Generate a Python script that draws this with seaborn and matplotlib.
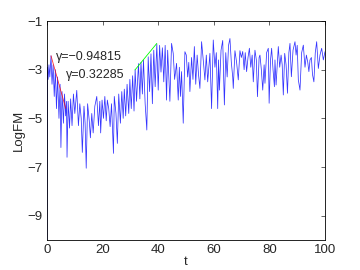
import numpy as np
import pandas as pd
import matplotlib
matplotlib.use("Agg")
import matplotlib.pyplot as plt
import seaborn as sns

# LogFM signal (peaks and dips)
t = [0.0, 0.15, 0.4, 0.7, 1.0, 1.44, 1.8, 2.2, 2.6, 3.0, 3.4, 3.8, 4.3, 4.7, 5.0, 5.4, 5.9, 6.3, 6.7, 7.0,
     7.2, 7.6, 8.1, 8.5, 9.0, 9.5, 10.0, 10.7, 11.3, 11.8, 12.3, 12.7, 13.3, 13.7, 14.1, 14.6, 15.2, 15.6, 16.1, 16.6,
     17.2, 17.9, 18.5, 19.0, 19.3, 19.8, 20.3, 20.8, 21.3, 21.7, 22.2, 22.7, 23.2, 23.9, 24.2, 24.8, 25.3, 25.8, 26.4, 26.9,
     27.4, 27.8, 28.3, 28.8, 29.4, 29.8, 30.3, 30.8, 31.3, 31.7, 32.2, 32.9, 33.4, 33.8, 34.3, 34.7, 35.3, 35.9, 36.4, 36.9,
     37.4, 37.9, 38.4, 38.9, 39.5, 40.0, 40.5, 41.0, 41.5, 42.0, 42.5, 43.0, 43.4, 43.8, 44.2, 44.8, 45.4, 45.9, 46.6, 47.2,
     47.6, 48.0, 48.4, 49.0, 49.6, 50.1, 50.6, 51.0, 51.4, 52.0, 52.5, 53.0, 53.5, 54.0, 54.5, 55.0, 55.6, 56.2, 56.8, 57.3,
     57.8, 58.6, 59.2, 59.8, 60.4, 60.9, 61.4, 61.7, 62.0, 62.6, 63.2, 63.8, 64.3, 64.8, 65.3, 65.8, 66.3, 66.8, 67.0, 67.6,
     68.2, 68.8, 69.4, 69.9, 70.4, 70.9, 71.3, 71.8, 72.3, 72.8, 73.3, 73.8, 74.2, 74.8, 75.3, 75.7, 76.3, 76.6, 77.1, 77.6,
     78.1, 78.4, 79.0, 79.6, 79.9, 80.4, 80.8, 81.3, 81.8, 82.0, 82.4, 83.2, 83.7, 84.2, 84.6, 85.0, 85.5, 86.0, 86.5, 87.0,
     87.4, 87.9, 88.5, 89.2, 89.6, 90.0, 90.4, 91.0, 91.6, 92.2, 92.8, 93.3, 93.8, 94.2, 94.6, 95.1, 95.5, 96.0, 96.5, 97.0,
     97.6, 98.2, 98.8, 99.4, 100.0]
logfm = [-10.5, -2.9, -3.4, -2.8, -3.3, -2.43, -3.6, -2.8, -4.1, -3.0, -4.6, -3.3, -5.0, -3.6, -6.2, -3.9, -5.2, -4.0, -4.9, -4.3,
         -6.6, -4.3, -5.4, -4.2, -5.3, -4.0, -4.8, -3.85, -5.3, -4.4, -5.0, -6.4, -4.5, -5.2, -7.05, -4.4, -5.1, -5.8, -4.8, -5.6,
         -4.5, -4.1, -5.3, -4.3, -5.6, -4.25, -5.0, -4.1, -5.1, -4.25, -4.6, -5.34, -4.4, -6.44, -4.1, -4.8, -6.03, -4.0, -5.2, -3.9,
         -5.0, -3.8, -4.9, -3.6, -4.8, -3.4, -4.6, -3.25, -4.7, -3.0, -4.3, -2.75, -4.2, -2.7, -4.0, -2.6, -4.4, -5.48, -2.47, -3.9,
         -2.35, -4.4, -2.2, -3.7, -1.95, -3.84, -2.0, -3.1, -2.1, -3.5, -2.0, -4.25, -2.2, -3.2, -4.3, -1.92, -2.33, -3.4, -2.74, -4.25,
         -2.9, -4.1, -3.08, -5.2, -2.26, -2.4, -3.3, -2.7, -3.9, -2.5, -3.4, -2.05, -3.6, -2.4, -3.2, -3.77, -1.85, -2.6, -3.42, -2.4,
         -3.5, -2.33, -4.6, -1.78, -2.9, -2.3, -4.6, -2.6, -3.84, -2.2, -1.8, -4.45, -2.3, -3.3, -2.0, -1.72, -2.7, -3.3, -3.77, -2.22,
         -2.7, -3.42, -2.22, -2.5, -2.25, -3.0, -2.3, -3.08, -2.5, -2.12, -2.9, -2.4, -3.5, -2.2, -2.6, -4.11, -2.5, -2.4, -3.0, -3.84,
         -2.8, -3.56, -2.3, -2.12, -4.38, -2.6, -2.12, -3.0, -3.7, -2.6, -3.63, -2.05, -2.9, -2.4, -2.8, -4.04, -2.33, -2.8, -3.97, -2.3,
         -1.92, -3.29, -2.2, -1.85, -2.4, -2.0, -3.42, -3.84, -2.3, -1.99, -2.9, -2.4, -2.7, -3.08, -2.6, -2.5, -3.2, -3.5, -2.3, -1.85,
         -2.95, -2.4, -2.12, -2.6, -2.26]

# fitted growth-rate segments
red_t = [1.44, 6.73]
red_v = [-2.43, -4.59]
green_t = [31.65, 39.5]
green_v = [-3.01, -1.92]
gamma_labels = ["\u03b3=\u22120.94815", "\u03b3=0.32285"]

sns.set_style("white")
plt.rcParams['font.family'] = ['Liberation Sans', 'DejaVu Sans']
plt.rcParams['font.size'] = 9

fig = plt.figure(figsize=(3.6, 2.7), dpi=100)
ax = fig.add_axes([0.1306, 0.1111, 0.7722, 0.8111])

df = pd.DataFrame({"t": t, "LogFM": logfm})
sns.lineplot(data=df, x="t", y="LogFM", sort=False, estimator=None,
             color="blue", lw=0.55, alpha=0.8, ax=ax)
sns.lineplot(x=red_t, y=red_v, color="red", lw=0.6, alpha=0.8, ax=ax)
sns.lineplot(x=green_t, y=green_v, color="lime", lw=0.6, ax=ax)

ax.text(3.2, -2.48, gamma_labels[0], fontsize=9, va="center", ha="left")
ax.text(6.8, -3.22, gamma_labels[1], fontsize=9, va="center", ha="left")

ax.set_xlim(0, 100)
ax.set_ylim(-10, -1)
ax.set_xticks([0, 20, 40, 60, 80, 100])
ax.set_yticks([-1, -3, -5, -7, -9])
ax.tick_params(direction="in", length=3, width=0.5, top=True, right=True, labelsize=9.5, pad=3)
for s in ax.spines.values():
    s.set_linewidth(0.6)
    s.set_color("black")
ax.set_xlabel("t", fontsize=9.5, labelpad=0)
ax.set_ylabel("LogFM", fontsize=9.5, labelpad=2)

plt.savefig("out.png", dpi=100)
